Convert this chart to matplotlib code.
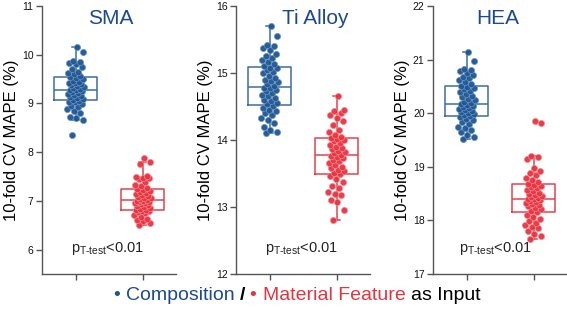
import numpy as np
import matplotlib
matplotlib.use("Agg")
import matplotlib.pyplot as plt
from matplotlib.offsetbox import TextArea, HPacker, AnchoredOffsetbox

plt.rcParams['font.family'] = ['Liberation Sans', 'DejaVu Sans']
plt.rcParams['mathtext.fontset'] = 'custom'
plt.rcParams['mathtext.rm'] = 'Liberation Sans'
plt.rcParams['mathtext.it'] = 'Liberation Sans'
plt.rcParams['mathtext.default'] = 'regular'

panels = ["SMA", "Ti Alloy", "HEA"]
groups = ["Composition", "Material Feature"]

sma_comp = [8.35, 8.66, 8.70, 8.73, 8.80, 8.84, 8.88, 8.92, 8.95, 8.99, 9.02, 9.04, 9.06, 9.07,
            9.10, 9.12, 9.14, 9.16, 9.18, 9.20, 9.22, 9.24, 9.25, 9.27, 9.28, 9.29, 9.31, 9.33,
            9.35, 9.37, 9.39, 9.41, 9.43, 9.45, 9.47, 9.50, 9.52, 9.54, 9.57, 9.60, 9.62, 9.65,
            9.70, 9.75, 9.80, 9.82, 9.86, 9.88, 10.05, 10.15]
sma_feat = [6.50, 6.55, 6.58, 6.60, 6.63, 6.68, 6.72, 6.75, 6.77, 6.79, 6.80, 6.81, 6.82, 6.83,
            6.85, 6.87, 6.89, 6.91, 6.93, 6.95, 6.96, 6.97, 6.98, 6.99, 7.00, 7.02, 7.03, 7.05,
            7.06, 7.08, 7.10, 7.12, 7.14, 7.16, 7.18, 7.20, 7.22, 7.24, 7.27, 7.30, 7.33, 7.38,
            7.45, 7.47, 7.48, 7.50, 7.52, 7.76, 7.79, 7.88]
ti_comp = [14.10, 14.12, 14.15, 14.20, 14.26, 14.30, 14.33, 14.37, 14.40, 14.43, 14.45, 14.48,
           14.51, 14.53, 14.55, 14.58, 14.60, 14.62, 14.65, 14.67, 14.70, 14.73, 14.75, 14.77,
           14.78, 14.80, 14.83, 14.86, 14.88, 14.90, 14.93, 14.96, 15.00, 15.02, 15.05, 15.07,
           15.08, 15.10, 15.13, 15.16, 15.19, 15.22, 15.25, 15.28, 15.35, 15.37, 15.40, 15.42,
           15.55, 15.70]
ti_feat = [12.80, 12.95, 13.08, 13.10, 13.18, 13.20, 13.22, 13.28, 13.32, 13.38, 13.42, 13.46,
           13.49, 13.51, 13.53, 13.55, 13.58, 13.60, 13.62, 13.65, 13.68, 13.70, 13.73, 13.75,
           13.76, 13.78, 13.80, 13.82, 13.84, 13.86, 13.88, 13.90, 13.92, 13.95, 13.98, 14.00,
           14.01, 14.03, 14.05, 14.08, 14.12, 14.15, 14.22, 14.28, 14.33, 14.38, 14.40, 14.43,
           14.45, 14.65]
hea_comp = [19.52, 19.55, 19.60, 19.65, 19.68, 19.72, 19.75, 19.80, 19.84, 19.87, 19.90, 19.92,
            19.94, 19.96, 19.98, 20.00, 20.02, 20.04, 20.06, 20.08, 20.10, 20.12, 20.14, 20.16,
            20.17, 20.19, 20.21, 20.24, 20.27, 20.30, 20.33, 20.36, 20.39, 20.42, 20.45, 20.47,
            20.49, 20.51, 20.55, 20.58, 20.62, 20.65, 20.68, 20.72, 20.75, 20.78, 20.80, 20.83,
            20.98, 21.15]
hea_feat = [17.65, 17.70, 17.75, 17.80, 17.85, 17.88, 17.92, 17.96, 17.99, 18.02, 18.06, 18.10,
            18.16, 18.18, 18.21, 18.24, 18.26, 18.29, 18.31, 18.33, 18.35, 18.37, 18.38, 18.39,
            18.40, 18.41, 18.43, 18.45, 18.47, 18.50, 18.52, 18.55, 18.57, 18.60, 18.62, 18.64,
            18.66, 18.68, 18.71, 18.75, 18.80, 18.85, 18.88, 18.93, 18.98, 19.15, 19.18, 19.20,
            19.82, 19.85]

data = [(sma_comp, sma_feat), (ti_comp, ti_feat), (hea_comp, hea_feat)]
ylims = [(5.5, 11), (12, 16), (17, 22)]
yticks = [[6, 7, 8, 9, 10, 11], [12, 13, 14, 15, 16], [17, 18, 19, 20, 21, 22]]
title_x = [0.51, 0.59, 0.48]
p_x = [0.49, 0.49, 0.47]

BLUE_PT = '#1d5592'
BLUE_EDGE = '#6d95c2'
BLUE_BOX = '#3b6ea6'
RED_PT = '#e8333f'
RED_EDGE = '#f38a92'
RED_BOX = '#e5414b'
TITLE_BLUE = '#1b4a93'
SPINE = '#555555'

fig = plt.figure(figsize=(5.67, 3.10), dpi=100)
lefts = [42 / 567, 236 / 567, 433 / 567]
w = 134 / 567
bottom = 1 - 274 / 310
h = (274 - 6) / 310

for k in range(3):
    ax = fig.add_axes([lefts[k], bottom, w, h])
    comp, feat = data[k]
    for j, (vals, pc, ec, bc) in enumerate([(comp, BLUE_PT, BLUE_EDGE, BLUE_BOX),
                                             (feat, RED_PT, RED_EDGE, RED_BOX)]):
        ax.boxplot([vals], positions=[j], widths=0.64, showfliers=False,
                   boxprops=dict(color=bc, linewidth=1.1),
                   medianprops=dict(color=bc, linewidth=1.1),
                   whiskerprops=dict(color=bc, linewidth=1.1),
                   capprops=dict(color=bc, linewidth=1.1),
                   capwidths=0.1, zorder=2)
        n = len(vals)
        offs = np.array([((i * 0.6180339887 + 0.31) % 1.0 - 0.5) * 0.25 for i in range(n)])
        ax.scatter(j + offs, vals, s=20, color=pc, edgecolors=ec, linewidths=0.5,
                   zorder=3, alpha=0.95)
    ax.set_xlim(-0.5, 1.5)
    ax.set_ylim(*ylims[k])
    ax.set_yticks(yticks[k])
    ax.set_xticks([0, 1])
    ax.set_xticklabels(['', ''])
    for s in ['top', 'right']:
        ax.spines[s].set_visible(False)
    for s in ['left', 'bottom']:
        ax.spines[s].set_color(SPINE)
        ax.spines[s].set_linewidth(1.0)
    ax.tick_params(axis='both', colors=SPINE, length=4, width=1.0, labelsize=7.5,
                   labelcolor='#111111', pad=2)
    ax.set_ylabel('10-fold CV MAPE (%)', fontsize=12, labelpad=2)
    ax.text(title_x[k], 0.955, panels[k], transform=ax.transAxes, ha='center', va='center',
            fontsize=15, color=TITLE_BLUE)
    ax.text(p_x[k], 0.095, r'$\mathregular{p_{T\text{-}test}}$<0.01', transform=ax.transAxes,
            ha='center', va='center', fontsize=10.5, color='#222222')

# bottom legend line
fs = 14
parts = [
    TextArea('\u2022 ', textprops=dict(color=BLUE_PT, fontsize=fs)),
    TextArea('Composition ', textprops=dict(color=TITLE_BLUE, fontsize=fs)),
    TextArea('/ ', textprops=dict(color='black', fontsize=fs, fontweight='bold')),
    TextArea('\u2022 ', textprops=dict(color=RED_PT, fontsize=fs)),
    TextArea('Material Feature ', textprops=dict(color=RED_PT, fontsize=fs)),
    TextArea('as Input', textprops=dict(color='black', fontsize=fs)),
]
box = HPacker(children=parts, align='baseline', pad=0, sep=0)
anch = AnchoredOffsetbox(loc='center', child=box, frameon=False,
                         bbox_to_anchor=(297 / 567, 1 - 296 / 310),
                         bbox_transform=fig.transFigure, borderpad=0, pad=0)
fig.add_artist(anch)

fig.savefig('out.png', dpi=100)
